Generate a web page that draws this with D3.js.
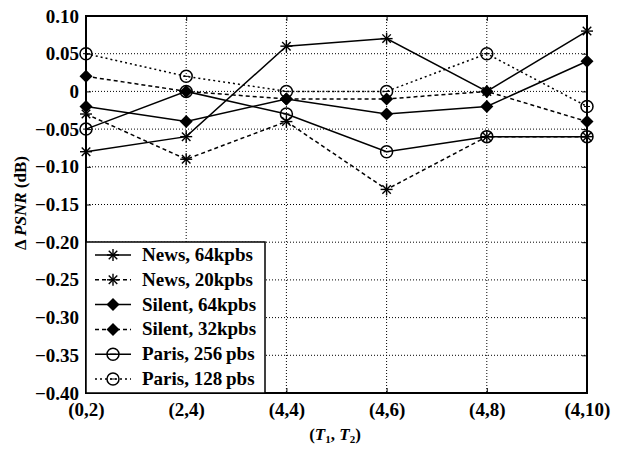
<!DOCTYPE html>
<html><head><meta charset="utf-8">
<script src="https://cdn.jsdelivr.net/npm/d3@7"></script>
<style>body{margin:0;background:#fff}svg{display:block}</style>
</head><body>
<script>
const categories = ["(0,2)","(2,4)","(4,4)","(4,6)","(4,8)","(4,10)"];
const yTicks = [0.10,0.05,0,-0.05,-0.10,-0.15,-0.20,-0.25,-0.30,-0.35,-0.40];
const yTickLabels = ["0.10","0.05","0","\u22120.05","\u22120.10","\u22120.15","\u22120.20","\u22120.25","\u22120.30","\u22120.35","\u22120.40"];
const seriesNames = ["News, 64kpbs","News, 20kpbs","Silent, 64kpbs","Silent, 32kpbs","Paris, 256\u2009pbs","Paris, 128\u2009pbs"];
const news64 = [-0.08,-0.06,0.06,0.07,0.00,0.08];
const news20 = [-0.03,-0.09,-0.04,-0.13,-0.06,-0.06];
const silent64 = [-0.02,-0.04,-0.01,-0.03,-0.02,0.04];
const silent32 = [0.02,0.00,-0.01,-0.01,0.00,-0.04];
const paris256 = [-0.05,0.00,-0.03,-0.08,-0.06,-0.06];
const paris128 = [0.05,0.02,0.00,0.00,0.05,-0.02];

const series = [
  {name:seriesNames[0], values:news64, marker:"star", dash:null},
  {name:seriesNames[1], values:news20, marker:"star", dash:"4,3"},
  {name:seriesNames[2], values:silent64, marker:"diamond", dash:null},
  {name:seriesNames[3], values:silent32, marker:"diamond", dash:"4,3"},
  {name:seriesNames[4], values:paris256, marker:"circle", dash:null},
  {name:seriesNames[5], values:paris128, marker:"circle", dash:"2,3"}
];

const W=622,H=449, L=86,R=587,T=16,B=393;
const svg=d3.select("body").append("svg").attr("width",W).attr("height",H);
const x=d3.scalePoint().domain(categories).range([L,R]);
const y=d3.scaleLinear().domain([-0.40,0.10]).range([B,T]);
const font="'Liberation Serif', 'Times New Roman', serif";

// grid
const g=svg.append("g");
g.selectAll(".gy").data(yTicks.filter(v=>v<0.1&&v>-0.4)).enter().append("line")
 .attr("x1",L).attr("x2",R).attr("y1",d=>y(d)).attr("y2",d=>y(d))
 .attr("stroke","#000").attr("stroke-width",1).attr("stroke-dasharray","1,2");
g.selectAll(".gx").data(categories.slice(1,-1)).enter().append("line")
 .attr("y1",T).attr("y2",B).attr("x1",d=>x(d)).attr("x2",d=>x(d))
 .attr("stroke","#000").attr("stroke-width",1).attr("stroke-dasharray","1,2");

// axes
const yAxis=d3.axisLeft(y).tickValues(yTicks).tickSize(-5).tickPadding(7).tickFormat((d,i)=>yTickLabels[i]);
svg.append("g").attr("transform",`translate(${L},0)`).call(yAxis);
const yAxisR=d3.axisRight(y).tickValues(yTicks).tickSize(-5).tickFormat("");
svg.append("g").attr("transform",`translate(${R},0)`).call(yAxisR);
const xAxis=d3.axisBottom(x).tickSize(-5).tickPadding(10);
svg.append("g").attr("transform",`translate(0,${B})`).call(xAxis);
svg.append("g").attr("transform",`translate(0,${T})`).call(d3.axisTop(x).tickSize(-5).tickFormat(""));
svg.selectAll(".domain").remove();
svg.selectAll(".tick line").attr("stroke","#000").attr("stroke-width",1);
svg.selectAll(".tick text").attr("font-family",font).attr("font-size",19).attr("font-weight","bold").attr("fill","#000");
svg.append("rect").attr("x",L).attr("y",T).attr("width",R-L).attr("height",B-T)
 .attr("fill","none").attr("stroke","#000").attr("stroke-width",2);

function drawMarker(sel,type,cx,cy){
  if(type==="star"){
    const r=6;
    for(let k=0;k<4;k++){
      const a=k*Math.PI/4;
      sel.append("line").attr("x1",cx-r*Math.cos(a)).attr("y1",cy-r*Math.sin(a))
        .attr("x2",cx+r*Math.cos(a)).attr("y2",cy+r*Math.sin(a)).attr("stroke","#000").attr("stroke-width",1.4);
    }
  } else if(type==="diamond"){
    const r=6.5;
    sel.append("path").attr("d",`M${cx},${cy-r}L${cx+r},${cy}L${cx},${cy+r}L${cx-r},${cy}Z`).attr("fill","#000");
  } else {
    sel.append("circle").attr("cx",cx).attr("cy",cy).attr("r",6).attr("fill","none").attr("stroke","#000").attr("stroke-width",1.5);
    sel.append("line").attr("x1",cx-3).attr("x2",cx+3).attr("y1",cy).attr("y2",cy).attr("stroke","#000").attr("stroke-width",1);
  }
}

const line=d3.line().x((d,i)=>x(categories[i])).y(d=>y(d));
series.forEach(s=>{
  svg.append("path").datum(s.values).attr("d",line).attr("fill","none")
    .attr("stroke","#000").attr("stroke-width",1.5).attr("stroke-dasharray",s.dash);
  const mg=svg.append("g");
  s.values.forEach((v,i)=>drawMarker(mg,s.marker,x(categories[i]),y(v)));
});

// legend
const lx=L, ly=242, lw=265-L;
svg.append("rect").attr("x",lx).attr("y",ly).attr("width",lw).attr("height",B-ly)
 .attr("fill","#fff").attr("stroke","#000").attr("stroke-width",1.5);
series.forEach((s,i)=>{
  const yy=255+i*24.8;
  svg.append("line").attr("x1",95).attr("x2",131).attr("y1",yy).attr("y2",yy)
   .attr("stroke","#000").attr("stroke-width",1.5).attr("stroke-dasharray",s.dash);
  drawMarker(svg.append("g"),s.marker,113,yy);
  svg.append("text").attr("x",142).attr("y",yy+6).text(s.name)
   .attr("font-family",font).attr("font-size",19).attr("font-weight","bold");
});

// axis labels
const yl=svg.append("text").attr("transform",`translate(26,203) rotate(-90)`)
 .attr("text-anchor","middle").attr("font-family",font).attr("font-size",17).attr("font-weight","bold");
yl.append("tspan").text("\u0394 ");
yl.append("tspan").attr("font-style","italic").text("PSNR");
yl.append("tspan").text(" (dB)");

const xl=svg.append("text").attr("x",335).attr("y",440).attr("text-anchor","middle")
 .attr("font-family",font).attr("font-size",17).attr("font-weight","bold");
xl.append("tspan").text("(");
xl.append("tspan").attr("font-style","italic").text("T");
xl.append("tspan").attr("font-size",11).attr("dy",3).text("1");
xl.append("tspan").attr("dy",-3).text(", ");
xl.append("tspan").attr("font-style","italic").text("T");
xl.append("tspan").attr("font-size",11).attr("dy",3).text("2");
xl.append("tspan").attr("dy",-3).text(")");
</script>
</body></html>
